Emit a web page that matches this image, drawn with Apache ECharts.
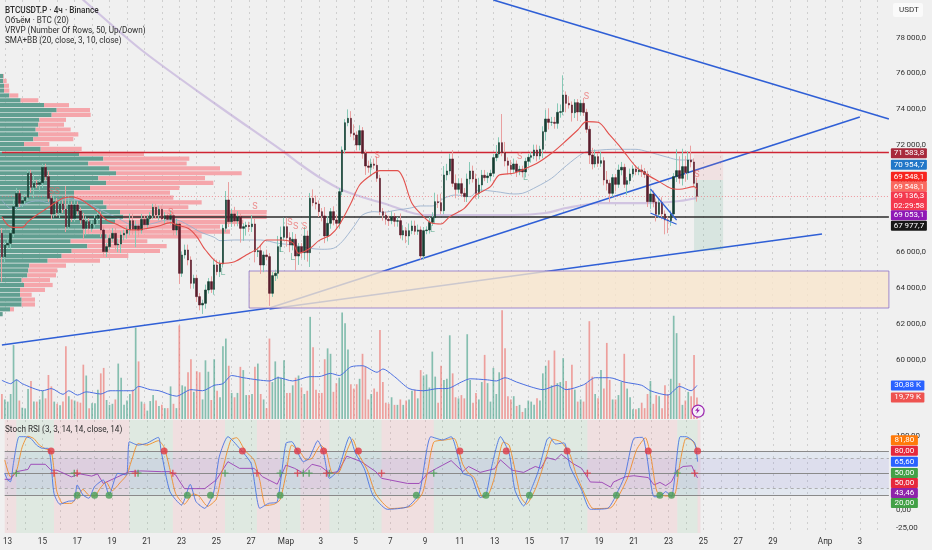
<!DOCTYPE html>
<html><head><meta charset="utf-8">
<style>html,body{margin:0;padding:0;background:#f0f0f0}#c{width:932px;height:550px}</style>
<script src="https://cdn.jsdelivr.net/npm/echarts@6/dist/echarts.min.js"></script>
</head><body><div id="c"></div>
<script>
const closes=[65762,66413,66506,67065,68554,69299,68740,68890,69076,70416,
69635,69858,69802,69896,70752,70230,69020,68145,68834,68219,
68704,68406,67437,68648,67903,68648,68312,67810,67344,67717,
67344,67586,67903,68089,67251,66041,66320,66786,67065,66413,
66469,66972,67065,67251,67773,67289,67475,67251,67847,67549,
67884,68052,68517,68089,68406,67866,68052,67847,68052,67251,
67586,64831,65855,66135,65576,64273,64552,63528,63062,63155,
63900,64366,63937,65297,64924,65353,67345,68928,67717,68146,
67755,67997,67345,67438,67513,67438,67587,66042,66097,65297,
65855,65762,63714,64701,64831,66321,66842,67438,66824,66414,
66731,65800,66321,65986,66917,65986,69021,68779,68704,68276,
68034,66917,67624,68276,67811,67624,69393,71721,73247,73490,
72652,72559,72000,72801,71535,70828,70753,70939,70865,70139,
68277,68072,67849,67774,67997,67737,67774,66973,67215,66917,
67215,67476,67178,67253,65800,67215,67253,67681,67941,68835,
68779,68333,70325,70548,71219,69859,69524,69841,69301,69115,
70102,70548,70102,69301,69766,70306,70176,70269,70418,71293,
71498,72131,71572,71107,70865,70641,70939,70511,70641,70492,
71088,71312,71405,71721,71386,71759,72746,73453,73267,73267,
73211,73825,73863,74794,74328,74235,73807,74365,73844,74328,
73825,72876,71442,70939,71349,70977,71126,70046,69859,69301,
70176,69803,70604,70753,69803,70008,70381,70660,70511,70604,
70511,70362,68835,69264,68817,68128,68779,68146,67811,67774,
68146,70232,70567,70139,70791,70456,71163,71051,69860,69136];
const firstOpen=67065;
const upperWick=[3,2,3,3,4,3,2,2,2,2, 2,5,2,2,2,2,3,2,3,2, 2,2,13,5,2,3,2,2,4,3, 2,2,2,3,2,2,2,2,3,3,
3,2,2,2,4,4,3,2,3,2, 2,2,2,2,2,2,2,2,3,2, 3,2,2,3,3,2,2,2,2,2, 3,2,3,3,3,2,2,5,10,3,
4,3,2,2,2,2,5,3,2,3, 2,3,2,2,2,6,6,5,5,3, 4,3,2,2,5,3,3,5,4,2, 2,5,4,2,3,3,2,2,2,5,
4,5,2,3,2,2,3,3,3,5, 2,2,2,2,3,2,2,4,3,2, 4,3,3,3,2,2,2,3,3,5, 4,5,5,4,3,5,5,3,3,3,
3,5,3,3,4,3,3,2,2,2, 5,3,16,6,2,3,3,2,2,2, 2,2,2,3,3,2,3,5,6,3, 3,5,4,11,2,4,2,2,2,2,
3,2,2,4,4,2,5,2,5,2, 2,2,3,3,2,2,3,2,2,2, 3,2,2,3,2,2,2,3,2,2, 2,2,12,8,10,6,5,8,2,3];
const lowerWick=[14,3,2,3,2,2,2,2,2,2, 3,6,2,4,3,2,2,3,2,2, 3,2,3,2,2,2,2,2,6,4, 3,2,2,3,4,3,3,2,2,3,
4,5,3,3,3,3,10,4,2,2, 2,2,2,2,3,2,3,2,3,3, 3,6,2,2,3,3,3,3,3,5, 3,2,2,3,2,3,2,2,3,3,
3,3,8,7,5,3,3,6,3,5, 4,2,7,2,3,3,3,2,5,4, 3,8,5,3,4,5,8,2,3,3, 3,4,3,3,3,3,3,2,2,2,
2,3,3,3,3,5,3,5,2,2, 2,3,3,3,2,3,3,2,3,4, 5,2,2,2,2,2,2,2,2,3, 3,2,2,3,2,2,5,2,2,3,
3,3,2,3,3,4,2,3,3,2, 2,2,2,3,5,3,2,3,2,3, 3,3,3,2,3,2,5,5,4,2, 3,3,3,2,5,2,5,3,5,2,
2,2,5,3,2,2,2,3,4,5, 2,4,2,3,2,6,2,2,2,2, 3,2,3,4,3,4,2,3,8,7, 3,2,3,3,4,5,4,3,2,3];
const volumes=[23,18,16,23,68,36.5,17,10.4,9.8,27.6,35,16,16,18,26,19,40.5,30,16,14,12.6,16,67,21,18,17,16,15,50,40,
10,14.4,14.4,27,42,47,17.5,13,14,18,51,38,13,17,23,27,84,53,16,14,7.7,16.5,22,17,12,13,10,10,30,14,
10,86,31,30,43,55,25,44,43,18,54,43.5,17.5,55,26,20,67,74,49,24,20,24,
48,45,22,22,23,48,51,23,18,10,74,34,53,39,38,54,24,24,31,38,40,29,23,26,94,66,27,24,24,55,65,60,25,33,38,98,88,64,32,28,32,37,60,48,18,23,28,25,82,34,15,14,20,13,13,18,13,17,18,26,27,19,45,40,41,29,62,39,15,49,36,37,77,42,20,19,
22,19,78,36,15,24,18,34,59,33,16,47,23,43,100,65,21,18,21,12,13,6.5,10,17,16,13,19,17,42,49,54,31,63,33,34,56,35,28,50,27,16,18,16,33,90,39,23,19,45,28,70,36,18,18,22,34,60,28,20,9,9,10,15,10,23,35,14,22,21,10,31,23,37,95,79,33,13,17,25,21,59,19.79];
const volumeMA=[[0,35.6],[3,32.5],[5,36],[7,32.5],[14,26],[17,28],[21,22.7],[23,26],[26,22],[29,25],[34,23],[37,26],[41,26],[45,26],[47,30],[51,27],[54,26],[60,21],[65,27],[69,26],[73,31],[76,32.5],[79,40],[83,38],[88,36],[92,35],[95,38],[100,35],[106,39],[109,39],[113,42],[116,40],[120,48],[124,49],[129,43],[131,46],[135,39],[140,28],[145,26],[150,28],[153,28],[158,34],[161,37],[167,36],[170,35],[173,38],[177,34],[182,29.5],[186,27],[191,31],[194,27],[200,31.5],[204,38],[209,38],[214,34],[220,31],[223,26],[229,22],[233,30],[237,26],[239,30.88]];
const smaRed=[[0,67996],[2,67530],[4,67400],[7,67400],[9,67717],[12,68089],[15,68406],[18,68741],[21,69020],[24,69113],[27,68964],[30,68648],[33,68275],[36,67810],[40,67530],[43,67288],[46,67251],[50,67344],[54,67475],[58,67661],[60,67530],[64,67344],[67,66879],[70,66134],[75,65389],[80,65482],[84,65855],[88,66227],[91,66693],[96,66693],[100,66544],[102,65950],[106,66230],[109,66657],[113,66974],[116,67532],[120,68743],[123,69767],[127,70325],[130,70567],[136,70567],[138,70139],[141,68743],[145,67998],[148,67625],[151,67588],[154,67998],[159,68463],[163,69208],[168,69674],[171,70325],[176,70418],[179,70605],[184,70977],[189,71536],[193,72094],[198,72839],[201,73304],[205,73267],[209,72560],[213,71815],[218,70791],[222,70325],[226,69953],[230,69580],[233,69525],[238,69674],[239,69525]];
const bbMid=[[0,68927],[3,68462],[6,68555],[10,68834],[13,68871],[17,68741],[22,69020],[28,68834],[34,68368],[40,67903],[45,67531],[51,67586],[57,67810],[60,67810],[64,67531],[68,67158],[73,66842],[75,66655],[80,66693],[84,66693],[89,66693],[95,66506],[100,66413],[106,66229],[110,66173],[114,66229],[117,66601],[121,67439],[124,68091],[128,68277],[131,68240],[136,68370],[140,68463],[144,68594],[148,68594],[152,69022],[156,69208],[161,69115],[164,69487],[170,69394],[176,69264],[179,69301],[184,69674],[189,70139],[193,70698],[198,71349],[201,71629],[206,71722],[210,71759],[218,71759],[222,71629],[229,71312],[233,71163],[238,71163]];
const longMA=[[25,80600],[28,80101],[48,77308],[73,74346],[97,71609],[102,70994],[109,70212],[117,69486],[125,69039],[133,68648],[140,68257],[145,68089],[160,68089],[176,68089],[187,68201],[194,68480],[206,68760],[222,68751],[233,68871],[239,69040]];
const trendUpperFall=[[169,80101],[305,73453]];
const trendRise=[[92,62893],[295,73564]];
const trendBaseA=[[0,60826],[92,62893]];
const trendBaseB=[[92,62837],[282,67027]];
const wedgeTop=[[223,69542],[232,67810]];
const wedgeBottom=[[223,68201],[232,67570]];
const levelResist=71583.8, levelSupport=67977.7, lastPrice=69136.3;
const demandZone={from:85,to:305,top:64960,bottom:62893};
const shortRisk={from:238,to:248,top:71470,bottom:70045};
const shortReward={from:238,to:248,top:70045,bottom:66100};
const sPoints=[[17,69374],[19,69374],[58,68201],[87,68536],[99,67642],[101,67419],[104,67419],[129,71385],[178,71330],[201,74682],[239,70324]];
const lPoints=[[76,64849],[96,66134],[100,65687],[148,67251],[180,70156]];
const vrvpUp=[10,10,12,12,28,62,132,170,155,118,115,107,115,100,72,122,238,310,265,328,348,295,318,270,222,222,310,320,360,370,345,300,250,320,212,262,215,185,143,88,85,82,65,72,60,60,65,65,30,8];
const vrvpDown=[2,10,15,16,27,53,75,100,117,80,77,105,120,120,76,123,194,258,295,332,377,320,322,268,288,298,295,245,440,430,385,360,440,285,230,238,265,200,157,110,87,86,85,86,75,35,40,40,12,0];
const stochK=[[0,50],[1,41],[2,38.4],[3,63],[5,99.4],[7,99.4],[9,97],[11,88],[13,83.6],[15,83.6],[16,63],[17,22.6],[19,8],[22,12],[24,12.7],[25,34],[27,20.4],[29,16],[31,31.7],[34,40.7],[36,20.4],[39,49.7],[42,47.5],[43,92.6],[46,88],[49,90.4],[53,98.5],[54,79],[57,25],[61,6.8],[64,34.8],[66,11.3],[69,2.3],[72,22.6],[74,72],[77,99.4],[81,83.6],[85,63],[88,2.3],[91,9],[94,11.3],[97,90.4],[99,92.6],[103,65.5],[105,70],[108,94],[110,77],[112,43],[115,54],[119,99.4],[121,77],[124,56.5],[127,20.4],[132,1],[139,4.5],[143,22.6],[147,99.4],[151,95],[154,99.4],[158,50],[161,45],[164,17],[166,20.4],[168,59],[171,99.4],[174,77],[176,27],[179,5.5],[182,31.7],[184,52],[187,95],[188,98.5],[190,89.5],[193,91],[195,59],[199,27],[202,1],[208,2.3],[212,29.4],[214,47.5],[217,97],[220,98.5],[224,18],[226,18],[228,25],[230,18],[233,99.4],[235,99.4],[238,91],[239,65.6]];
const stochD=[[0,68],[2,45],[4,52],[6,85],[8,100],[10,97],[12,88],[14,83],[16,80],[17,55],[18,25],[20,9],[23,9],[25,18],[27,28],[29,20],[31,19],[33,30],[35,38],[37,26],[40,38],[42,47],[44,70],[46,90],[49,88],[53,94],[55,85],[57,55],[59,22],[62,8],[65,22],[67,19],[70,5],[73,15],[75,52],[78,95],[80,98],[83,80],[86,68],[88,40],[90,6],[93,8],[95,14],[97,48],[99,88],[102,78],[104,68],[106,70],[109,88],[111,78],[113,50],[115,50],[118,80],[120,96],[122,76],[125,55],[128,22],[133,2],[140,5],[144,22],[146,55],[148,92],[152,95],[155,97],[158,62],[160,50],[162,44],[165,17],[167,22],[169,45],[172,92],[174,88],[176,55],[178,18],[180,8],[183,28],[185,50],[187,75],[189,96],[192,92],[195,75],[197,50],[200,22],[203,2],[209,3],[213,28],[215,45],[218,82],[221,98],[223,70],[225,25],[228,19],[231,20],[233,65],[235,97],[237,95],[239,81.8]];
const rsiLine=[[0,41.6],[2,41.6],[4,52],[8,55],[9,62],[14,62],[16,54],[18,54],[23,45],[26,49],[30,46],[32,49],[34,36],[39,45],[43,52],[47,53],[54,52],[57,52],[59,47.5],[60,41],[62,29],[66,29],[69,29],[73,41],[77,65.5],[81,56.5],[86,56.5],[89,45],[94,35],[97,61],[100,56.5],[103,50],[106,62],[109,59],[112,50],[115,52],[118,73],[123,65.5],[128,52],[130,43],[139,36],[143,36],[146,50],[149,56.5],[154,67],[158,52],[160,59],[164,51],[169,56],[171,68],[175,54],[179,51],[183,59],[185,56.5],[187,71],[190,68],[192,75.5],[196,63],[199,56.5],[202,38],[206,37.5],[209,31],[210,38],[214,45],[217,46.5],[222,44],[224,34],[226,37.5],[228,33],[230,38.5],[232,54],[234,59],[237,60],[238,50.6],[239,43.46]];
const redDots=[16,55,82,101,110,122,157,173,194,222,239];
const greenDots=[25,31,36,63,71,95,142,166,181,211,226,230];
const greenCross=[4,24,46,76,95,103,105,112,148,232];
const redCross=[17,25,45,58,87,101,111,130,201,238];
const zoneStarts=[0,4,17,43,58,76,87,95,102,112,130,148,201,232,239];
const zoneEnds=[4,17,43,58,76,87,95,102,112,130,148,201,232,239,240];
const zoneKind=['r','g','r','g','r','g','r','g','r','g','r','g','r','g','r'];
const tickIndex=[1,13,25,37,49,61,73,85,97,109,121,133,145,157,169,181,193,205,217,229,241,253,265,283,295];
const tickNames=['13','15','17','19','21','23','25','27','Мар','3','5','7','9','11','13','15','17','19','21','23','25','27','29','Апр','3'];
const priceTicks=[78000,76000,74000,72000,70000,68000,66000,64000,62000,60000];
const stochTicks=[100,0,-25];
const mainTagText=['71 583,8','70 954,7','69 548,1','69 548,1','69 136,3\n02:29:58','69 053,1','67 977,7'];
const mainTagPos=[71536,70899,70229,69670,68871,68072,67491];
const mainTagColor=['#a82a3c','#2277c8','#f7251f','#f96a60','#f4394e','#8f18b6','#171717'];
const mainTagH=[10,10,10,10,19,10,10];
const volTagText=['30,88 K','19,79 K'];
const volTagPos=[30.88,19.79];
const volTagColor=['#2962ff','#ee5350'];
const stochTagText=['81,80','80,00','65,60','50,00','50,00','43,46','20,00'];
const stochTagPos=[94.5,80.4,65.5,50.2,36.6,23,9.5];
const stochTagColor=['#ff7a0a','#e6283c','#2962ff','#43a047','#e6283c','#8e24aa','#43a047'];

const N=306, F='Roboto, "Noto Sans", sans-serif';
const categories=Array.from({length:N},(_,i)=>String(i));
const tickMap={}; tickIndex.forEach((t,k)=>tickMap[t]=tickNames[k]);
const opens=closes.map((c,i)=>i?closes[i-1]:firstOpen);
const wickData=closes.map((c,i)=>[opens[i],c,Math.min(opens[i],c)-lowerWick[i]*100,Math.max(opens[i],c)+upperWick[i]*100]);
const bodyData=closes.map((c,i)=>[opens[i],c,Math.min(opens[i],c),Math.max(opens[i],c)]);
const volData=volumes.map((v,i)=>({value:v,itemStyle:{color:closes[i]>=opens[i]?'rgba(68,160,135,.62)':'rgba(236,110,105,.62)'}}));
const dayLine=(i)=>(i-1)%6===0;

function xAxis(grid,showLabel){return{type:'category',gridIndex:grid,data:categories,boundaryGap:false,
  axisLine:{show:false},axisTick:{show:false},
  axisLabel:{show:showLabel,interval:i=>tickMap[i]!==undefined,formatter:(v)=>tickMap[+v]||'',color:'#333',fontSize:8.2,fontFamily:F,margin:5,hideOverlap:false},
  splitLine:{show:true,interval:dayLine,lineStyle:{color:'#cfcfcf',type:[2,4],width:1}}};}
function line(name,data,color,width,xi,yi,extra){return Object.assign({type:'line',name,data,xAxisIndex:xi,yAxisIndex:yi,showSymbol:false,symbol:'none',silent:true,animation:false,
  lineStyle:{color,width},z:6},extra||{});}
function tags(xi,yi,text,pos,color,w,h){return{type:'custom',xAxisIndex:xi,yAxisIndex:yi,clip:false,silent:true,animation:false,z:30,
  data:pos.map((p,i)=>[N-1,p,i]),encode:{x:0,y:1},
  renderItem(params,api){const c=api.coord([api.value(0),api.value(1)]);const i=api.value(2);const hh=h?h[i]:10;
    const x=c[0]+2;return{type:'group',children:[
      {type:'rect',shape:{x,y:c[1]-hh/2,width:w,height:hh,r:1},style:{fill:color[i]}},
      {type:'text',style:{x:x+w/2,y:c[1],text:text[i],fill:'#fff',font:'8px '+F,align:'center',verticalAlign:'middle',lineHeight:9.5}}]};}};}
function priceFmt(v){const s=Math.round(v).toString();return s.slice(0,-3)+'\u2009'+s.slice(-3)+',0';}

const option={animation:false,backgroundColor:'#f0f0f0',textStyle:{fontFamily:F},
 title:[['BTCUSDT.P · 4ч · Binance',5,6,'bold'],['Объём · BTC (20)',5,16,'normal'],['VRVP (Number Of Rows, 50, Up/Down)',5,26,'normal'],['SMA+BB (20, close, 3, 10, close)',5,36,'normal'],['Stoch RSI (3, 3, 14, 14, close, 14)',5,425,'normal']]
   .map(t=>({text:t[0],left:t[1],top:t[2],padding:0,textStyle:{fontSize:8.2,fontWeight:t[3]==='bold'?500:400,color:'#2e2e2e',fontFamily:F,lineHeight:9}})),
 grid:[{left:1.9,width:887,top:0,height:419},{left:1.9,width:887,top:300,height:119},{left:1.9,width:887,top:420,height:113},{left:0,width:300,top:73.6,height:243}],
 xAxis:[xAxis(0,false),Object.assign(xAxis(1,false),{splitLine:{show:false}}),xAxis(2,true),{type:'value',gridIndex:3,min:0,max:900,show:false}],
 yAxis:[{type:'value',gridIndex:0,position:'right',min:56692,max:80101,scale:true,axisLine:{show:false},axisTick:{show:false},splitLine:{show:false},
     axisLabel:{customValues:priceTicks,formatter:priceFmt,color:'#333',fontSize:8,fontFamily:F,margin:7}},
   {type:'value',gridIndex:1,min:0,max:109.5,show:false,splitLine:{show:false}},
   {type:'value',gridIndex:2,position:'right',min:-31.1,max:122,axisLine:{show:false},axisTick:{show:false},splitLine:{show:false},
     axisLabel:{customValues:stochTicks,formatter:v=>String(v.toFixed(2)).replace('.',','),color:'#333',fontSize:8,fontFamily:F,margin:7}},
   {type:'category',gridIndex:3,inverse:true,show:false,data:vrvpUp.map((_,i)=>String(i))}],
 series:[
  {type:'bar',name:'VRVP Up',xAxisIndex:3,yAxisIndex:3,stack:'v',data:vrvpUp,barWidth:4.2,itemStyle:{color:'#619f91'},silent:true,z:1},
  {type:'bar',name:'VRVP Down',xAxisIndex:3,yAxisIndex:3,stack:'v',data:vrvpDown,barWidth:4.2,itemStyle:{color:'#f5a6ab'},silent:true,z:1},
  line('Long MA',longMA,'rgba(190,170,216,.62)',2.2,0,0,{smooth:.3,z:3}),
  line('BB basis',bbMid,'rgba(150,175,205,.85)',1,0,0,{smooth:.3,z:3}),
  {type:'bar',name:'Volume',xAxisIndex:1,yAxisIndex:1,data:volData,barWidth:1.7,silent:true,z:2},
  line('Volume MA',volumeMA,'#4a6ee0',1,1,1,{smooth:.25,z:4}),
  line('Base trend A',trendBaseA,'#2f5fd6',1.6,0,0,{z:4}),
  line('Base trend B',trendBaseB,'#2f5fd6',1.6,0,0,{z:4}),
  line('Rising trend',trendRise,'#2f5fd6',1.6,0,0,{z:4}),
  line('Falling trend',trendUpperFall,'#2f5fd6',1.6,0,0,{z:4}),
  {type:'line',name:'Zones',xAxisIndex:0,yAxisIndex:0,data:[],silent:true,z:5,
    markArea:{silent:true,z:5,data:[
      [{xAxis:demandZone.from,yAxis:demandZone.top,itemStyle:{color:'rgba(248,230,204,.78)',borderColor:'#8a70c8',borderWidth:.8}},{xAxis:demandZone.to,yAxis:demandZone.bottom}],
      [{xAxis:shortRisk.from,yAxis:shortRisk.top,itemStyle:{color:'rgba(240,120,130,.13)'}},{xAxis:shortRisk.to,yAxis:shortRisk.bottom}],
      [{xAxis:shortReward.from,yAxis:shortReward.top,itemStyle:{color:'rgba(70,160,130,.14)'}},{xAxis:shortReward.to,yAxis:shortReward.bottom}]]},
    markLine:{silent:true,symbol:'none',label:{show:false},z:7,data:[
      {yAxis:levelResist,lineStyle:{color:'#cf2433',width:1.4,type:'solid'}},
      {yAxis:levelSupport,lineStyle:{color:'#2b2b2b',width:1.6,type:'solid'}},
      {yAxis:lastPrice,lineStyle:{color:'#ee6e78',width:.7,type:[1,2]}}]}},
  {type:'candlestick',name:'Wicks',xAxisIndex:0,yAxisIndex:0,data:wickData,barWidth:1,silent:true,z:8,
    itemStyle:{color:'#86c9b6',color0:'#e9a0a0',borderColor:'#86c9b6',borderColor0:'#e9a0a0',borderWidth:1}},
  {type:'candlestick',name:'BTCUSDT.P',xAxisIndex:0,yAxisIndex:0,data:bodyData,barWidth:2,silent:true,z:9,
    itemStyle:{color:'#143d31',color0:'#5a1d2c',borderColor:'#143d31',borderColor0:'#5a1d2c',borderWidth:.6}},
  line('SMA',smaRed,'#e2504c',1.1,0,0,{smooth:.3,z:10}),
  line('Wedge top',wedgeTop,'#2f5fd6',1.2,0,0,{z:11}),
  line('Wedge bottom',wedgeBottom,'#2f5fd6',1.2,0,0,{z:11}),
  {type:'scatter',name:'S',xAxisIndex:0,yAxisIndex:0,data:sPoints,symbolSize:0,silent:true,z:12,label:{show:true,position:'inside',formatter:'S',color:'rgba(236,96,96,.85)',fontSize:9,fontFamily:F}},
  {type:'scatter',name:'L',xAxisIndex:0,yAxisIndex:0,data:lPoints,symbolSize:0,silent:true,z:12,label:{show:true,position:'inside',formatter:'L',color:'rgba(80,165,135,.85)',fontSize:9,fontFamily:F}},
  tags(0,0,mainTagText,mainTagPos,mainTagColor,36,mainTagH),
  tags(1,1,volTagText,volTagPos,volTagColor,33.5),
  {type:'line',name:'Stoch back',xAxisIndex:2,yAxisIndex:2,data:[],silent:true,z:1,
    markArea:{silent:true,z:1,data:zoneStarts.map((s,k)=>[{xAxis:s,itemStyle:{color:zoneKind[k]==='r'?'rgba(242,90,100,.11)':'rgba(76,175,100,.10)'}},{xAxis:zoneEnds[k]}])
      .concat([[{yAxis:80,itemStyle:{color:'rgba(70,130,230,.08)'}},{yAxis:20}],[{yAxis:70,itemStyle:{color:'rgba(160,90,220,.06)'}},{yAxis:30}]])},
    markLine:{silent:true,symbol:'none',label:{show:false},data:[
      {yAxis:80,lineStyle:{color:'#8a8a8a',width:1.1,type:'solid'}},{yAxis:50,lineStyle:{color:'#8a8a8a',width:1.1,type:'solid'}},{yAxis:20,lineStyle:{color:'#8a8a8a',width:1.1,type:'solid'}},
      {yAxis:70,lineStyle:{color:'#a0a0a0',width:.8,type:[3,3]}},{yAxis:30,lineStyle:{color:'#a0a0a0',width:.8,type:[3,3]}}]}},
  line('RSI',rsiLine,'#9a40b4',.9,2,2),
  line('%D',stochD,'#ef8c2a',.9,2,2,{smooth:.2}),
  line('%K',stochK,'#4a74e2',.9,2,2,{smooth:.2}),
  {type:'scatter',name:'Down 80',xAxisIndex:2,yAxisIndex:2,data:redDots.map(i=>[i,80]),symbolSize:7,itemStyle:{color:'#e03a46'},silent:true,z:9},
  {type:'scatter',name:'Up 20',xAxisIndex:2,yAxisIndex:2,data:greenDots.map(i=>[i,20]),symbolSize:7,itemStyle:{color:'#4b9f58'},silent:true,z:9},
  {type:'scatter',name:'Cross up',xAxisIndex:2,yAxisIndex:2,data:greenCross.map(i=>[i,50]),symbol:'path://M4 0H6V4H10V6H6V10H4V6H0V4H4Z',symbolSize:7,itemStyle:{color:'#4b9f58'},silent:true,z:9},
  {type:'scatter',name:'Cross down',xAxisIndex:2,yAxisIndex:2,data:redCross.map(i=>[i,50]),symbol:'path://M4 0H6V4H10V6H6V10H4V6H0V4H4Z',symbolSize:7,itemStyle:{color:'#e03a46'},silent:true,z:9},
  tags(2,2,stochTagText,stochTagPos,stochTagColor,27)
 ],
 graphic:[
  {type:'rect',left:893,top:3,shape:{width:30,height:14,r:2},style:{fill:'#fafafa'},z:40},
  {type:'text',left:899,top:6,style:{text:'USDT',fill:'#333',font:'8px '+F},z:41},
  {type:'circle',left:691.5,top:404.5,shape:{r:6},style:{fill:'#f5f0f8',stroke:'#9c27b0',lineWidth:1.2},z:41},
  {type:'polygon',left:695,top:407,shape:{points:[[3.5,0],[0,3.8],[2.2,3.8],[1.2,7],[5,2.8],[2.8,2.8]]},style:{fill:'#9c27b0'},z:42}
 ]};
const chart=echarts.init(document.getElementById('c'),null,{renderer:'canvas'});
chart.setOption(option);
</script></body></html>
